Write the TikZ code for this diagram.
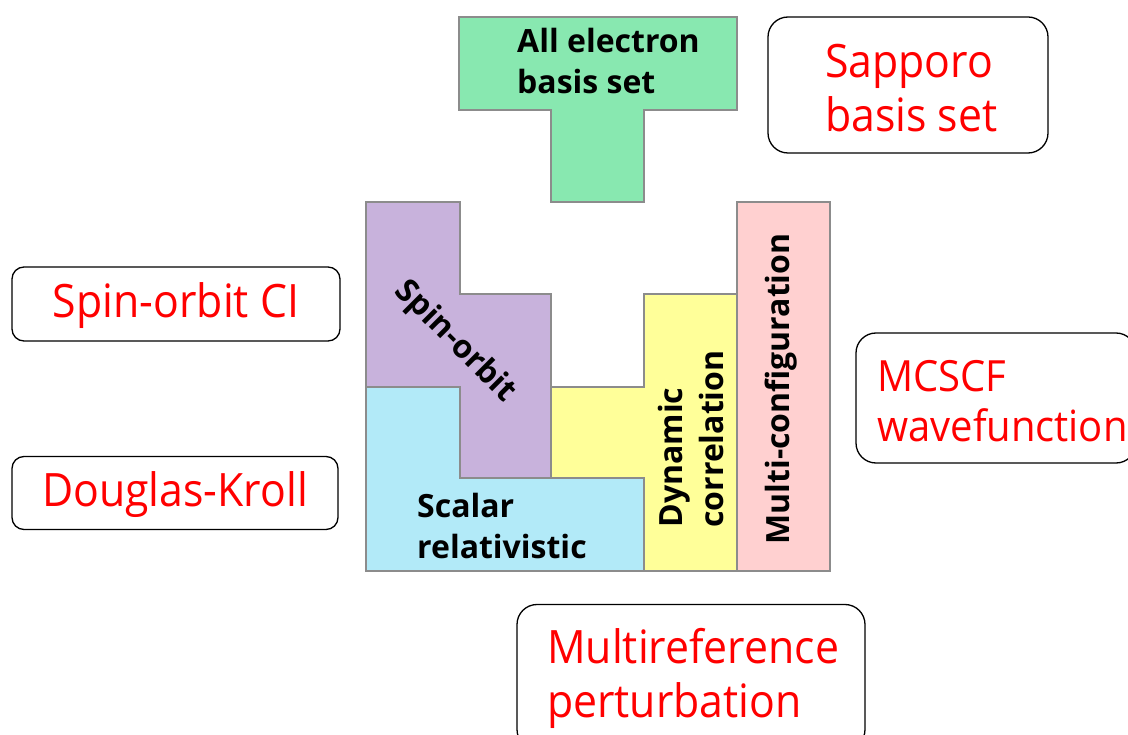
\documentclass[tikz,border=0pt]{standalone}
\usepackage{fontspec}
\setmainfont{Open Sans}
\newfontfamily\redfont[FakeStretch=0.93]{Open Sans}
\definecolor{edge}{RGB}{140,140,140}
\definecolor{cgreen}{RGB}{136,232,176}
\definecolor{cpurple}{RGB}{200,178,220}
\definecolor{ccyan}{RGB}{178,234,248}
\definecolor{cyellow}{RGB}{255,255,153}
\definecolor{cpink}{RGB}{255,208,208}
\definecolor{cred}{RGB}{255,0,0}
\begin{document}
\begin{tikzpicture}[x=1pt,y=-1pt,
  piece/.style={draw=edge,line width=1.5pt,line join=miter},
  rbox/.style={draw=black,line width=1.3pt,rounded corners=#1,inner sep=0pt},
  rbox/.default=20pt,
  redlabel/.style={text=cred,font=\redfont\fontsize{46}{54}\selectfont,align=left,inner sep=0pt},
  blacklabel/.style={text=black,font=\fontsize{32}{41}\selectfont\bfseries,align=left,inner sep=0pt}]
\useasboundingbox (0,0) rectangle (1128,735);
\clip (0,0) rectangle (1128,735);
% pieces
\draw[piece,fill=cgreen] (459,17) -- (737,17) -- (737,110) -- (644,110) -- (644,202) -- (551,202) -- (551,110) -- (459,110) -- cycle;
\draw[piece,fill=cpurple] (366,202) -- (460,202) -- (460,294) -- (551,294) -- (551,478) -- (460,478) -- (460,387) -- (366,387) -- cycle;
\draw[piece,fill=ccyan] (366,387) -- (460,387) -- (460,478) -- (644,478) -- (644,571) -- (366,571) -- cycle;
\draw[piece,fill=cyellow] (551,387) -- (644,387) -- (644,294) -- (737,294) -- (737,571) -- (644,571) -- (644,478) -- (551,478) -- cycle;
\draw[piece,fill=cpink] (737,202) rectangle (830,571);
% piece labels
\node[blacklabel,anchor=west] (allel) at (517,61) {All electron\\basis set};
\node[blacklabel,anchor=west] (scalar) at (417,526) {Scalar\\relativistic};
\node[blacklabel,rotate=-45] (spinorbit) at (455,342) {Spin-orbit};
\node[blacklabel,rotate=90] (dyn) at (691,439) {Dynamic\\correlation};
\node[blacklabel,rotate=90] (multi) at (781,389) {Multi-configuration};
% rounded boxes
\node[rbox,minimum width=280pt,minimum height=136pt] (sapbox) at (908,85) {};
\node[redlabel,anchor=west] (sap) at (825,88) {Sapporo\\basis set};
\node[rbox,minimum width=280pt,minimum height=130pt] (mcbox) at (996,398) {};
\node[redlabel,font=\redfont\fontsize{43}{50}\selectfont,anchor=west] (mc) at (877,401) {MCSCF\\wavefunction};
\node[rbox=12pt,minimum width=328pt,minimum height=74pt] (sobox) at (176,304) {};
\node[redlabel] (so) at (176,306) {Spin-orbit CI};
\node[rbox=12pt,minimum width=326pt,minimum height=73pt] (dkbox) at (175,493) {};
\node[redlabel] (dk) at (175,495) {Douglas-Kroll};
\node[rbox,minimum width=348pt,minimum height=145pt] (mrbox) at (691,677) {};
\node[redlabel,anchor=west] (mr) at (547,678) {Multireference\\perturbation};
\end{tikzpicture}
\end{document}
